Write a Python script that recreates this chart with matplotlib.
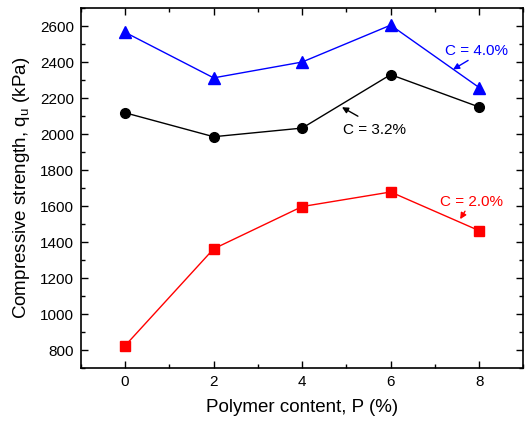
import numpy as np
import matplotlib
matplotlib.use('Agg')
import matplotlib.pyplot as plt
from matplotlib.ticker import MultipleLocator

polymer = [0, 2, 4, 6, 8]
qu_c40 = [2565, 2312, 2400, 2605, 2258]
qu_c32 = [2118, 1985, 2033, 2330, 2150]
qu_c20 = [824, 1362, 1597, 1678, 1463]

plt.rcParams['font.family'] = ['Liberation Sans', 'DejaVu Sans']
plt.rcParams['mathtext.fontset'] = 'custom'
plt.rcParams['mathtext.rm'] = 'Liberation Sans'

fig = plt.figure(figsize=(5.25, 4.23), dpi=100)
ax = fig.add_axes([0.154, 0.130, 0.843, 0.851])

ax.plot(polymer, qu_c40, color='blue', lw=1, marker='^', ms=8)
ax.plot(polymer, qu_c32, color='black', lw=1, marker='o', ms=7)
ax.plot(polymer, qu_c20, color='red', lw=1, marker='s', ms=6.5)

ax.set_xlim(-1, 9); ax.set_ylim(700, 2700)
ax.xaxis.set_major_locator(MultipleLocator(2)); ax.xaxis.set_minor_locator(MultipleLocator(1))
ax.yaxis.set_major_locator(MultipleLocator(200)); ax.yaxis.set_minor_locator(MultipleLocator(100))
ax.tick_params(which='both', direction='in', top=True, right=True, labelsize=11, width=1)
ax.tick_params(which='major', length=5, pad=5); ax.tick_params(which='minor', length=3)
for s in ax.spines.values():
    s.set_linewidth(1.2)

ax.set_xlabel('Polymer content, P (%)', fontsize=13.5, labelpad=7)
ax.set_ylabel(r'Compressive strength, q$_\mathregular{u}$ (kPa)', fontsize=13.5, labelpad=6)

# labels with small arrows
notes = [('C = 4.0%', 'blue', (7.94, 2459), (7.41, 2359), (7.75, 2409)),
         ('C = 3.2%', 'black', (5.64, 2021), (4.90, 2149), (5.26, 2099)),
         ('C = 2.0%', 'red', (7.83, 1621), (7.57, 1527), (7.68, 1571))]
for txt, col, pos, head, tail in notes:
    ax.text(pos[0], pos[1], txt, color=col, fontsize=11, ha='center', va='center')
    ax.annotate('', xy=head, xytext=tail,
                arrowprops=dict(arrowstyle='-|>', color=col, lw=1, mutation_scale=9, shrinkA=0, shrinkB=0))

plt.savefig('out.png', dpi=100)
